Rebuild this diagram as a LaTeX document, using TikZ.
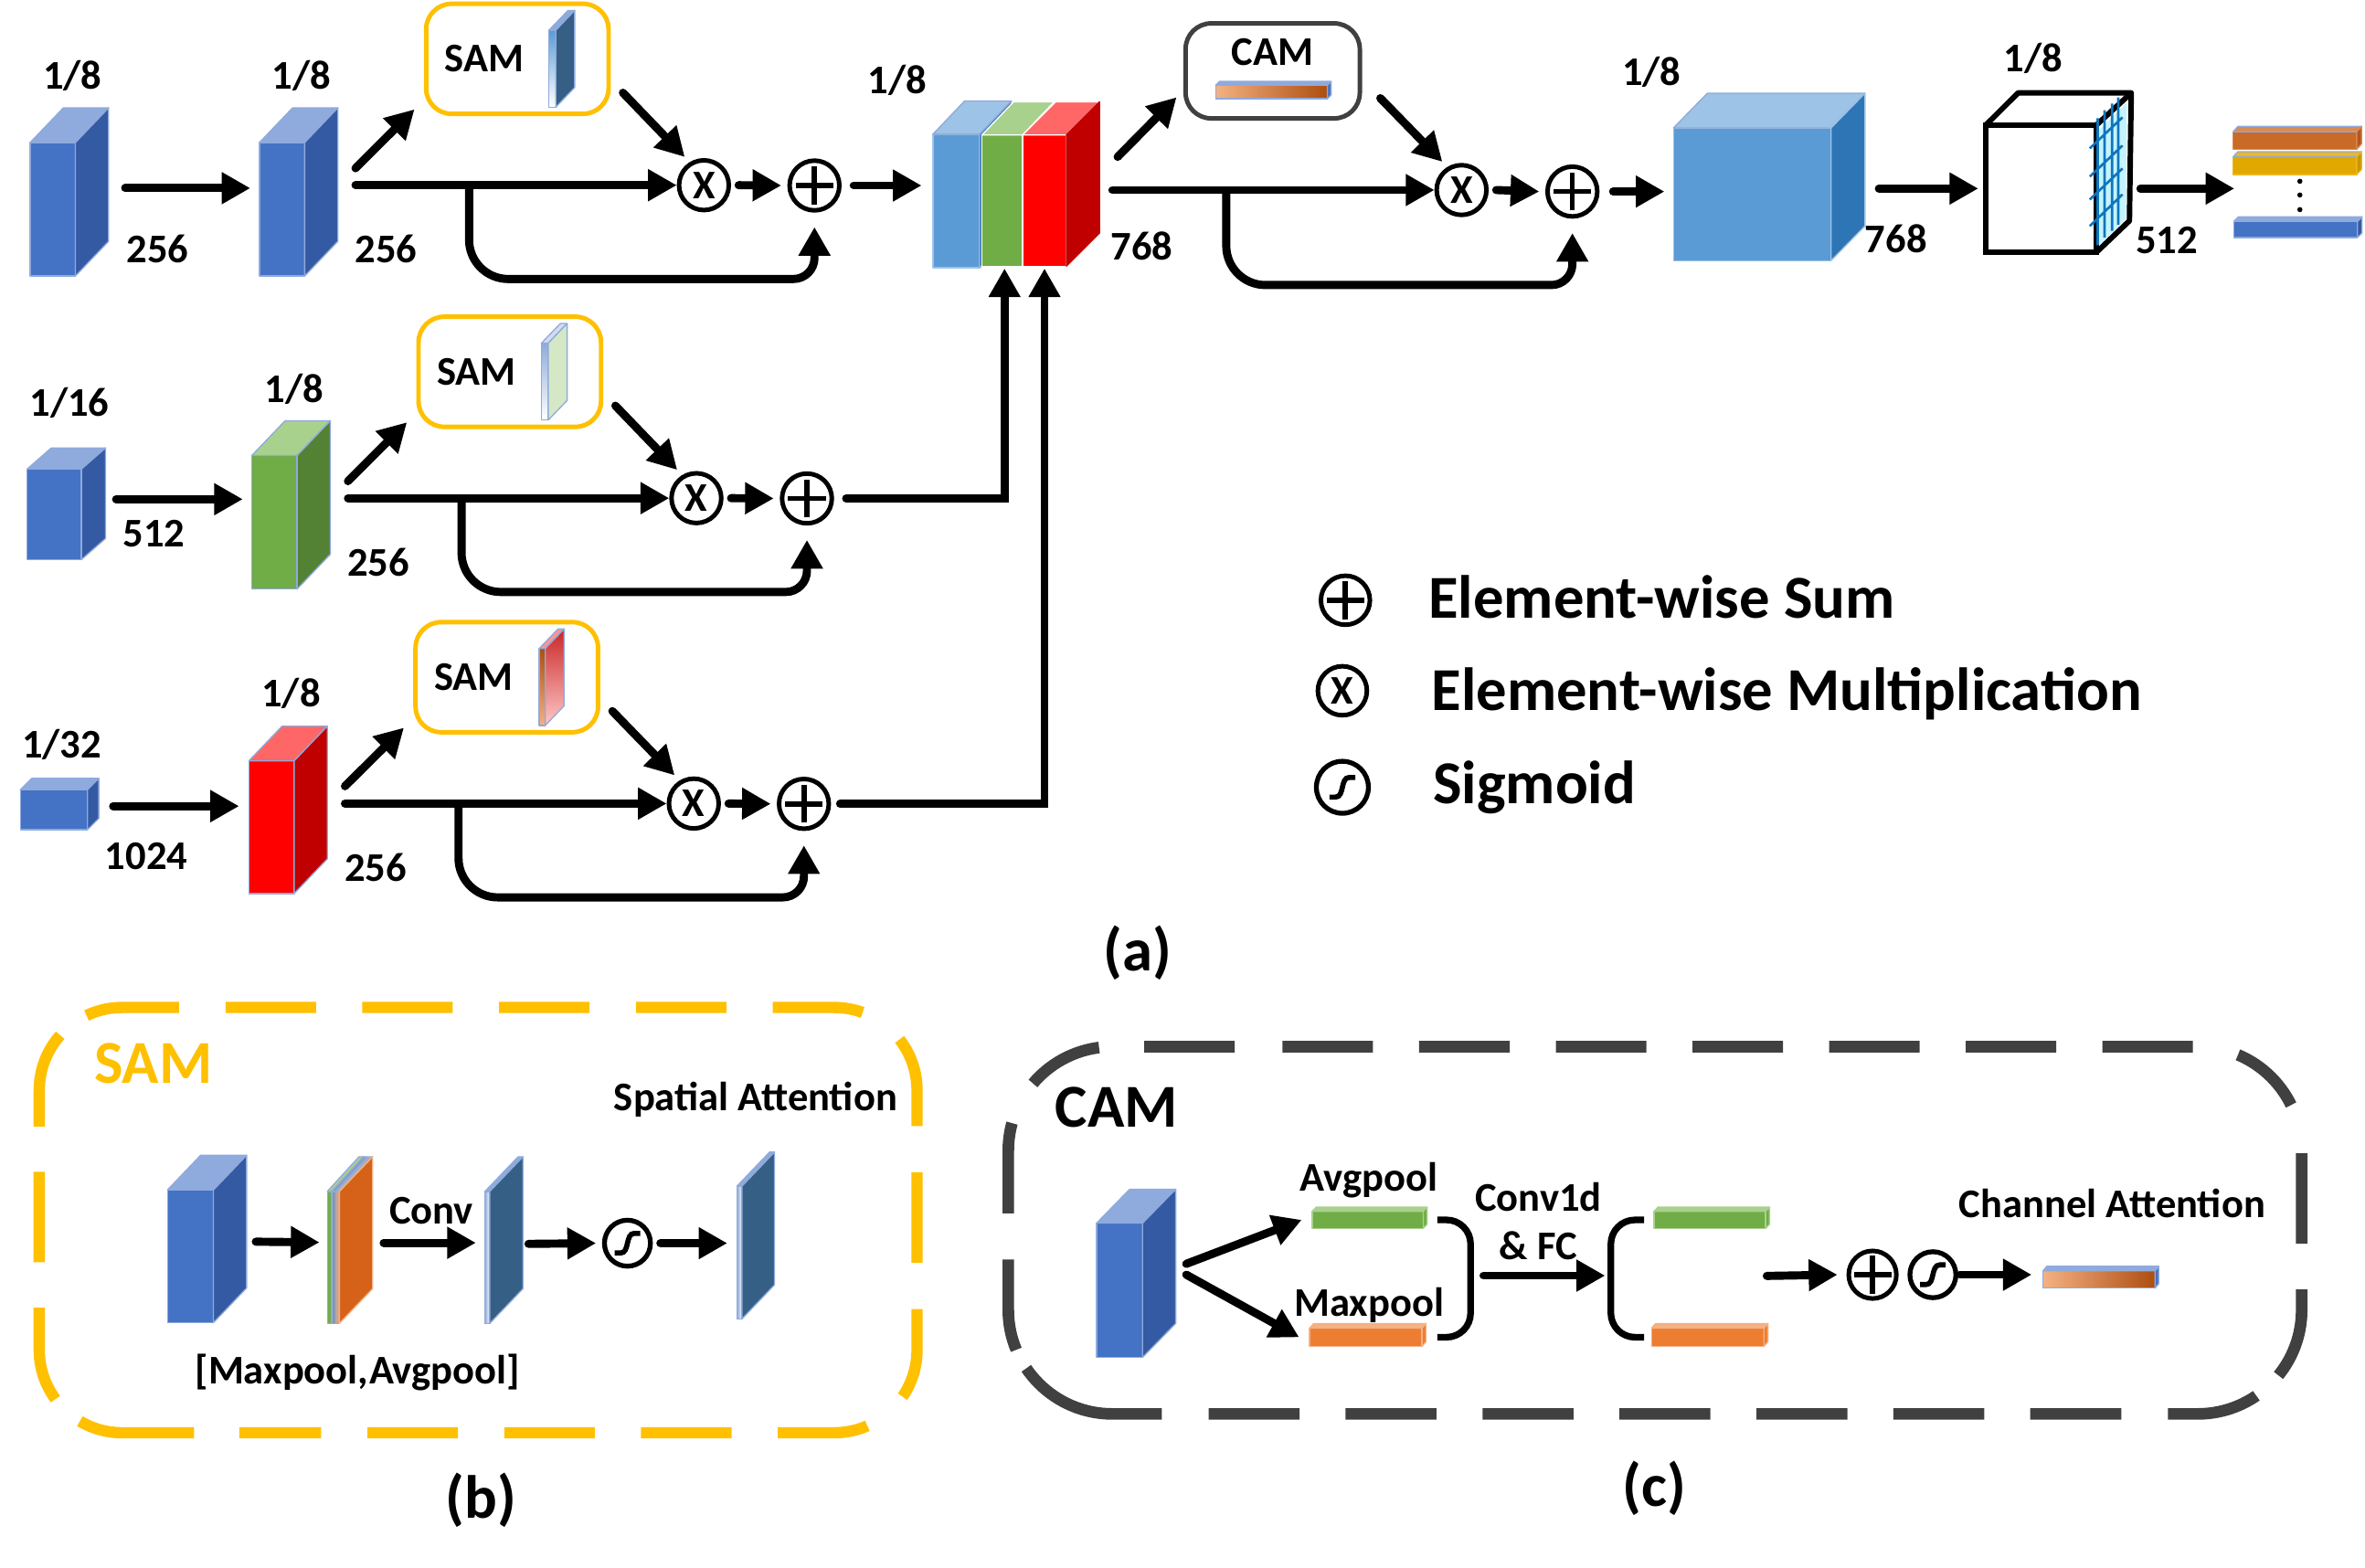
\documentclass[tikz,border=0pt]{standalone}
\usepackage{fontspec}
\setmainfont{Carlito}
\usepackage{xcolor}
\usetikzlibrary{arrows.meta, positioning, calc}
\definecolor{samgold}  {HTML}{FFC000}
\definecolor{camgrey}  {HTML}{404040}
\definecolor{blueF}    {HTML}{4472C4}
\definecolor{blueT}    {HTML}{8FAADC}
\definecolor{blueS}    {HTML}{345AA3}
\definecolor{skyF}     {HTML}{5B9BD5}
\definecolor{skyT}     {HTML}{9DC3E6}
\definecolor{skyS}     {HTML}{2E75B6}
\definecolor{greenF}   {HTML}{70AD47}
\definecolor{greenT}   {HTML}{A9D18E}
\definecolor{greenS}   {HTML}{548235}
\definecolor{redF}     {HTML}{FF0000}
\definecolor{redT}     {HTML}{FF6666}
\definecolor{redS}     {HTML}{C00000}
\definecolor{orangeF}  {HTML}{ED7D31}
\definecolor{orangeT}  {HTML}{F4B183}
\definecolor{orangeD}  {HTML}{AD4E10}
\definecolor{spoolS}   {HTML}{D6621A}
\definecolor{seqF}     {HTML}{C96A27}
\definecolor{seqT}     {HTML}{DC8A50}
\definecolor{seqS}     {HTML}{B4561C}
\definecolor{seqgoldF} {HTML}{E0A800}
\definecolor{seqgoldT} {HTML}{EDB820}
\definecolor{seqgoldS} {HTML}{C89600}
\definecolor{navyS}    {HTML}{355F84}
\definecolor{gridblue} {HTML}{0F75BD}
\definecolor{gridfill} {HTML}{C4F4FF}

% name, corner of the front face, width, height, depth x, depth y, then front, top and side looks
\newcommand{\cuboid}[9]{%
  \path[cubeface,#7] (#2) rectangle ++(#3,#4);
  \path[cubeface,#8] (#2) -- ++(#5,-#6) -- ++(#3,0) -- ++(-#5,#6) -- cycle;
  \path[cubeface,#9] (#2) ++(#3,0) -- ++(#5,-#6) -- ++(0,#4) -- ++(-#5,#6) -- cycle;
  \path (#2) ++(#3/2,#4/2) node[cubehit, minimum width=#3pt, minimum height=#4pt] (#1) {};
}

\begin{document}
\begin{tikzpicture}[
  x=1pt, y=-1pt,
  cubeface/.style={draw=blueT, line width=0.8pt, line join=round},
  cubehit/.style={inner sep=0pt, outer sep=0pt},
  % Every arrow in the figure has the same heavy head.
  fatarrow/.style={-{Triangle[length=19pt,width=20pt]}, line width=5.4pt, line cap=round},
  skiparrow/.style={fatarrow, line cap=butt},
  bracket/.style={line width=4.4pt, rounded corners=16pt, line cap=butt},
  numlabel/.style={inner sep=0pt, align=center, font=\fontsize{27}{32}\selectfont\bfseries},
  biglabel/.style={inner sep=0pt, font=\fontsize{40.4}{46}\selectfont\bfseries},
  sambox/.style={draw=samgold, line width=3pt, rounded corners=17pt, minimum width=121pt, minimum height=73pt},
  cambox/.style={draw=camgrey, line width=3pt, rounded corners=17pt, minimum width=115.5pt, minimum height=63pt},
  mulop/.style={circle, draw, line width=3pt, minimum size=33pt, inner sep=0pt,
                font=\fontsize{27}{30}\selectfont\bfseries},
  addop/.style={circle, draw, line width=3pt, minimum size=33pt, inner sep=0pt,
                path picture={
                  \draw[line width=3.4pt] ([xshift=-12.5pt]path picture bounding box.center) -- ([xshift=12.5pt]path picture bounding box.center);
                  \draw[line width=3.4pt] ([yshift=-12.5pt]path picture bounding box.center) -- ([yshift=12.5pt]path picture bounding box.center);}},
  sigop/.style={circle, draw, line width=3.2pt, minimum size=30.5pt, inner sep=0pt,
                path picture={
                  \draw[line width=3.4pt] (path picture bounding box.center) ++(-8.5,6.5) -- ++(4,0) .. controls +(6,0) and +(-6,0) .. ++(9,-13) -- ++(4,0);}},
  dotmark/.style={circle, fill=black, minimum size=3.4pt, inner sep=0pt},
  gridline/.style={draw=gridblue, line width=1.6pt},
  sampanel/.style={draw=samgold, line width=7.5pt, rounded corners=55pt, dash pattern=on 60pt off 30.7pt},
  campanel/.style={draw=camgrey, line width=7.7pt, rounded corners=69pt}
]
\useasboundingbox (0,0) rectangle (1568,1039.1);

% --- Top row ---
\cuboid{feat1}{20,94.5}{30}{88.5}{22}{23}{fill=blueF}{fill=blueT}{fill=blueS}
\cuboid{feat2}{172,94.5}{30}{88.5}{22}{23}{fill=blueF}{fill=blueT}{fill=blueS}
\node[numlabel] (rate1) at (48,50) {1/8};
\node[numlabel] (rate2) at (200,50) {1/8};
\node[numlabel] (dim1) at (104.5,165) {256};
\node[numlabel] (dim2) at (256,165) {256};
\node[sambox] (sam1) at (343,39) {};
\node[numlabel] (samtext1) at (321,39) {SAM};
\cuboid{slab1}{364,20}{4.5}{51}{12.5}{13}{top color=skyF,bottom color=white}{fill=blueT}{fill=navyS}
\node[mulop] (mul1) at (466.7,122.8) {X};
\node[addop] (add1) at (540,123) {};
\coordinate (join1) at (311,122.8);
\coordinate (low1) at ([yshift=-44pt]add1.south);

\draw[fatarrow] ([xshift=33pt,yshift=14pt]feat1.east) -- ([xshift=-6pt,yshift=14pt]feat2.west);
\draw[fatarrow] ([xshift=33.7pt,yshift=27.2pt]feat2.east) -- ([xshift=-6.2pt,yshift=4.5pt]sam1.south west);
\draw[fatarrow] ([xshift=33.7pt]feat2.east |- mul1) -- (mul1.west);
\draw[fatarrow] ([xshift=8pt,yshift=15.5pt]sam1.south east) -- ([yshift=6pt]mul1.north west);
\draw[fatarrow] ([xshift=5pt]mul1.east) -- ([xshift=-4pt]add1.west);
\draw[skiparrow, rounded corners=26pt] (join1) -- (join1 |- low1) [rounded corners=14pt] -- (low1) -- ([yshift=-9.5pt]add1.south);

% --- Middle row ---
\cuboid{feat3}{18,311}{36}{60}{16}{14}{fill=blueF}{fill=blueT}{fill=blueS}
\cuboid{feat4}{167,302}{30}{88.5}{22}{23}{fill=greenF}{fill=greenT}{fill=greenS}
\node[numlabel] (rate3) at (46,267) {1/16};
\node[numlabel] (rate4) at (195,258) {1/8};
\node[numlabel] (dim3) at (102,354) {512};
\node[numlabel] (dim4) at (251,373) {256};
\node[sambox] (sam2) at (338,246.5) {};
\node[numlabel] (samtext2) at (316,246.5) {SAM};
\cuboid{slab2}{359,227.5}{4.5}{51}{12.5}{13}{top color=blueT,bottom color=white}{fill=blueT!40}{fill=greenT!50!white}
\node[mulop] (mul2) at (461.7,330.3) {X};
\node[addop] (add2) at (535,330.5) {};
\coordinate (join2) at (306,330.3);
\coordinate (low2) at ([yshift=-44pt]add2.south);

\draw[fatarrow] ([xshift=23pt,yshift=10pt]feat3.east) -- ([xshift=-6pt,yshift=15.25pt]feat4.west);
\draw[fatarrow] ([xshift=33.7pt,yshift=27.2pt]feat4.east) -- ([xshift=-6.2pt,yshift=4.5pt]sam2.south west);
\draw[fatarrow] ([xshift=33.7pt]feat4.east |- mul2) -- (mul2.west);
\draw[fatarrow] ([xshift=8pt,yshift=15.5pt]sam2.south east) -- ([yshift=6pt]mul2.north west);
\draw[fatarrow] ([xshift=5pt]mul2.east) -- ([xshift=-4pt]add2.west);
\draw[skiparrow, rounded corners=26pt] (join2) -- (join2 |- low2) [rounded corners=14pt] -- (low2) -- ([yshift=-9.5pt]add2.south);

% --- Bottom row ---
\cuboid{feat5}{13.5,523.6}{44.5}{26.5}{7.5}{7.5}{fill=blueF}{fill=blueT}{fill=blueS}
\cuboid{feat6}{165,504.5}{30}{88}{22}{23}{fill=redF}{fill=redT}{fill=redS}
\node[numlabel] (rate5) at (41,494) {1/32};
\node[numlabel] (rate6) at (193,460) {1/8};
\node[numlabel] (dim5) at (97,568) {1024};
\node[numlabel] (dim6) at (249,575) {256};
\node[sambox] (sam3) at (336,449) {};
\node[numlabel] (samtext3) at (314,449) {SAM};
\cuboid{slab3}{357.5,430}{4}{51}{12.5}{13}{top color=orangeD,bottom color=orangeT}{fill=redT!70!white}{top color=redS!85!white,bottom color=redF!22!white}
\node[mulop] (mul3) at (460,532.8) {X};
\node[addop] (add3) at (533,533) {};
\coordinate (join3) at (304,532.8);
\coordinate (low3) at ([yshift=-44pt]add3.south);

\draw[fatarrow] ([xshift=17pt,yshift=2.35pt]feat5.east) -- ([xshift=-6.5pt,yshift=14pt]feat6.west);
\draw[fatarrow] ([xshift=33.7pt,yshift=27.2pt]feat6.east) -- ([xshift=-6.2pt,yshift=4.5pt]sam3.south west);
\draw[fatarrow] ([xshift=33.7pt]feat6.east |- mul3) -- (mul3.west);
\draw[fatarrow] ([xshift=8pt,yshift=15.5pt]sam3.south east) -- ([yshift=6pt]mul3.north west);
\draw[fatarrow] ([xshift=5pt]mul3.east) -- ([xshift=-4pt]add3.west);
\draw[skiparrow, rounded corners=26pt] (join3) -- (join3 |- low3) [rounded corners=14pt] -- (low3) -- ([yshift=-9.5pt]add3.south);

% --- Concatenated block ---
\cuboid{mblue}{618.5,89}{31}{88.5}{21}{22}{fill=skyF,draw=skyT}{fill=skyT}{fill=skyS}
\cuboid{mgreen}{651,89.5}{27}{87}{21}{22}{fill=greenF,draw=white}{fill=greenT,draw=white}{fill=greenS,draw=white}
\cuboid{mred}{678,89.5}{29}{87}{22}{22}{fill=redF,draw=white}{fill=redT,draw=white}{fill=redS,draw=redS}
\node[numlabel] (rate7) at (595,53) {1/8};
\node[numlabel] (dim7) at (757,163) {768};

\draw[fatarrow] ([xshift=8pt]add1.east) -- ([xshift=-7.5pt]mblue.west |- add1);
\draw[fatarrow] ([xshift=8pt]add2.east) -| ([xshift=1.5pt,yshift=-1.5pt]mgreen.south);
\draw[fatarrow] ([xshift=6pt]add3.east) -| ([yshift=-1.5pt]mred.south);

% --- Channel attention branch ---
\node[cambox] (cam1) at (843.8,47) {};
\node[numlabel] (camtext1) at (843.5,34.3) {CAM};
\cuboid{cambar1}{806,56.5}{74}{9}{2.5}{2.5}{left color=orangeT,middle color=orangeF,right color=orangeD}{fill=blueT}{fill=blueF}
\node[mulop] (mulc) at (969,126) {X};
\node[addop] (addc) at (1042.5,127) {};
\coordinate (joinc) at (813,126);
\coordinate (lowc) at ([yshift=-44pt]addc.south);

\draw[fatarrow] ([xshift=34pt,yshift=29pt]mred.east) -- ([xshift=-4.5pt,yshift=15.5pt]cam1.south west);
\draw[fatarrow] ([xshift=30.5pt]mred.east |- mulc) -- (mulc.west);
\draw[fatarrow] ([xshift=12.1pt,yshift=14.9pt]cam1.south east) -- ([yshift=6pt]mulc.north west);
\draw[fatarrow] ([xshift=5pt]mulc.east) -- ([xshift=-4pt]addc.west);
\draw[skiparrow, rounded corners=26pt] (joinc) -- (joinc |- lowc) [rounded corners=14pt] -- (lowc) -- ([yshift=-9.5pt]addc.south);

% --- Output volume, sliced cube, sequence ---
\cuboid{bigf}{1109.5,84.8}{104.5}{88}{22.5}{23}{fill=skyF,draw=skyT}{fill=skyT}{fill=skyS,draw=skyT}
\node[numlabel] (rate8) at (1095,48) {1/8};
\node[numlabel] (dim8) at (1257,158) {768};

\draw[line width=3.6pt, line join=round] (1316.7,82.8) -- (1338,61.6) -- (1413,61.6) -- (1411.8,146.4) -- (1390,167.2);
\draw[line width=3.6pt] (1390,82.8) -- (1413,61.6);
\fill[gridfill] (1390,88) -- (1410,68) -- (1409.5,145) -- (1390,164) -- cycle;
\node[draw, line width=3.6pt, minimum width=73.3pt, minimum height=84.4pt, inner sep=0pt] (cube) at (1353.35,125) {};
\draw[gridline] (1390.8,78.4) -- (1390.8,162.6) (1395.3,73.1) -- (1395.3,157.5)
  (1400.3,68.7) -- (1400.3,153.1) (1404.4,64.6) -- (1404.4,149)
  (1385.5,98.4) -- (1407.2,77.8) (1385.5,117.1) -- (1407.2,96.5)
  (1385.5,132.3) -- (1407.2,111.7) (1385.5,149.9) -- (1407.2,128.9);
\node[numlabel] (rate9) at (1348,39) {1/8};
\node[numlabel] (dim9) at (1436.6,159.5) {512};

\cuboid{seq1}{1480.5,87.4}{82}{11.6}{3.2}{3.6}{fill=seqF,draw=seqT}{fill=seqT}{fill=seqS,draw=seqT}
\cuboid{seq2}{1480.5,104}{82}{11.7}{3.2}{3.4}{fill=seqgoldF,draw=seqgoldT}{fill=seqgoldT}{fill=seqgoldS,draw=seqgoldT}
\cuboid{seq3}{1481,146.8}{82}{10.7}{3}{3}{fill=blueF}{fill=blueT}{fill=blueS}
\node[dotmark] (dot1) at (1524.8,120.2) {};
\node[dotmark] (dot2) at (1524.8,129.3) {};
\node[dotmark] (dot3) at (1524.8,139) {};
\coordinate (seqin) at (1481.4,125);

\draw[fatarrow] ([xshift=9pt]addc.east) -- ([xshift=-6pt]bigf.west |- addc);
\draw[fatarrow] ([xshift=31.7pt]bigf.east |- cube) -- ([xshift=-3.3pt]cube.west);
\draw[fatarrow] ([xshift=27.3pt]cube.east) -- (seqin);

% --- Legend ---
\node[addop, minimum size=32.5pt] (legadd) at (892,398) {};
\node[mulop, minimum size=32.5pt] (legmul) at (890,458) {X};
\node[sigop, minimum size=34.5pt] (legsig) at (890,522) {};
\node[biglabel, anchor=west] (legaddtext) at (947,396) {Element-wise Sum};
\node[biglabel, anchor=west] (legmultext) at (949,460) {Element-wise Multiplication};
\node[biglabel, anchor=west] (legsigtext) at (950,522) {Sigmoid};
\node[biglabel] (capa) at (754,632) {(a)};

% --- SAM panel ---
\draw[sampanel] (149.5,668) -- (608,668) -- (608,950) -- (158.7,950);
\draw[sampanel, dash pattern=on 77pt off 22pt on 63pt off 30pt on 60pt off 30pt on 64pt off 22pt on 62pt off 100pt]
  (128.6,950) -- (26,950) -- (26,668) -- (119,668);
\node[biglabel, text=samgold] (samtitle) at (101.7,705.4) {SAM};
\node[numlabel] (spatial) at (501,729) {Spatial Attention};
\node[numlabel] (poollabel) at (237,910) {[Maxpool,Avgpool]};
\node[numlabel] (convlabel) at (286,803) {Conv};
\cuboid{sfeat}{111,789}{30.5}{88}{22}{23}{fill=blueF}{fill=blueT}{fill=blueS}
\cuboid{spool1}{217,790}{3}{87.5}{21}{23}{fill=greenF}{fill=greenT}{fill=greenS}
\cuboid{spool2}{220,790}{2.5}{87.5}{21}{23}{fill=blueT!50!gray}{fill=blueT!60!gray}{fill=gray!60}
\cuboid{spool3}{222.5,790}{2.5}{87.5}{22}{23}{fill=orangeT!70!gray}{fill=gray!60}{fill=spoolS,draw=orangeT}
\cuboid{sconv}{321.5,790}{3.2}{87.5}{22}{23}{left color=blueT,right color=white}{fill=blueT}{fill=navyS}
\node[sigop] (sigs) at (416,824.3) {};
\cuboid{sout}{488.7,786.4}{3.3}{88}{21.5}{22.5}{left color=blueT,right color=white}{fill=blueT}{fill=navyS}

\draw[fatarrow] ([xshift=28.1pt,yshift=9.7pt]sfeat.east) -- ([xshift=-5.2pt,yshift=10pt]spool1.west);
\draw[fatarrow] ([xshift=29.4pt,yshift=9.7pt]spool3.east) -- ([xshift=-6pt,yshift=9.7pt]sconv.west);
\draw[fatarrow] ([xshift=25.7pt,yshift=9pt]sconv.east) -- ([xshift=-4pt]sigs.west);
\draw[fatarrow] ([xshift=5pt]sigs.east) -- ([xshift=-6.5pt]sout.west |- sigs);
\node[biglabel] (capb) at (319,995) {(b)};

% --- CAM panel ---
\draw[campanel, dash pattern=on 60pt off 30.6pt on 60pt off 30.6pt on 60pt off 30.6pt on 60pt off 30.6pt on 60pt off 30.6pt on 60pt off 30.6pt on 60pt off 30.6pt
    on 49.5pt off 33pt on 60pt off 30.3pt on 60.6pt off 20pt on 61pt off 31pt
    on 60.3pt off 30.5pt on 60.3pt off 30.5pt on 60.3pt off 30.5pt on 60.3pt off 30.5pt on 60.3pt off 30.5pt on 60.3pt off 30.5pt on 60.3pt off 31pt
    on 100pt off 14pt on 60.6pt off 30.6pt on 60pt off 30pt on 51pt off 30pt on 60pt off 100pt]
  (850.3,694) -- (1526,694) -- (1526,937.5) -- (668.5,937.5) -- (668.5,694) -- (850.3,694);
\node[biglabel] (camtitle) at (740.2,734) {CAM};
\node[numlabel] (avglabel) at (907.7,782.6) {Avgpool};
\node[numlabel] (maxlabel) at (907.7,865.4) {Maxpool};
\node[numlabel] (fclabel) at (1020,810) {Conv1d\\\& FC};
\node[numlabel] (channel) at (1400.4,797.8) {Channel Attention};
\cuboid{cfeat}{727,811}{30.5}{89}{22}{22.5}{fill=blueF}{fill=blueT}{fill=blueS}
\cuboid{avg1}{870,803.2}{73.6}{11.3}{2.6}{2.8}{fill=greenF,draw=greenT}{fill=greenT,draw=greenT}{fill=greenF,draw=greenT}
\cuboid{max1}{868.3,880.6}{74.5}{12.1}{2.6}{3}{fill=orangeF,draw=orangeT}{fill=orangeT,draw=orangeT}{fill=orangeF,draw=orangeT}
\cuboid{avg2}{1096.6,803.2}{74}{11.3}{2.6}{2.8}{fill=greenF,draw=greenT}{fill=greenT,draw=greenT}{fill=greenF,draw=greenT}
\cuboid{max2}{1095,880.6}{74.5}{12.1}{2.6}{3}{fill=orangeF,draw=orangeT}{fill=orangeT,draw=orangeT}{fill=orangeF,draw=orangeT}
\node[addop, minimum size=31.6pt] (addp) at (1241.5,845.2) {};
\node[sigop] (sigp) at (1281.5,845.2) {};
\cuboid{cambar2}{1354.6,842.6}{74.2}{11.5}{2.4}{3}{left color=orangeT,middle color=orangeF,right color=orangeD}{fill=blueT}{fill=blueF}
\coordinate (braceout) at (975,845.8);
\coordinate (bracein) at (1067,845.8);
\coordinate (barsout) at (1171.4,846);

\draw[fatarrow] ([xshift=29pt,yshift=17.5pt]cfeat.east) -- ([xshift=-7pt]avg1.west);
\draw[fatarrow] ([xshift=29pt,yshift=10.3pt]cfeat.east) -- ([xshift=-7pt]max1.west);
\draw[bracket] ([xshift=9.4pt]avg1.east) -- ++(22,0) |- ([xshift=10.2pt]max1.east);
\draw[bracket] ([xshift=-6.6pt]avg2.west) -- ++(-22,0) |- ([xshift=-5pt]max2.west);
\draw[fatarrow] ([xshift=8.6pt]braceout) -- ([xshift=-2.8pt]bracein);
\draw[fatarrow] (barsout) -- ([xshift=-6pt]addp.west);
\draw[fatarrow] ([xshift=1pt]sigp.east) -- ([xshift=-7.6pt]cambar2.west |- sigp);
\node[biglabel] (capc) at (1097,987) {(c)};

\end{tikzpicture}
\end{document}
